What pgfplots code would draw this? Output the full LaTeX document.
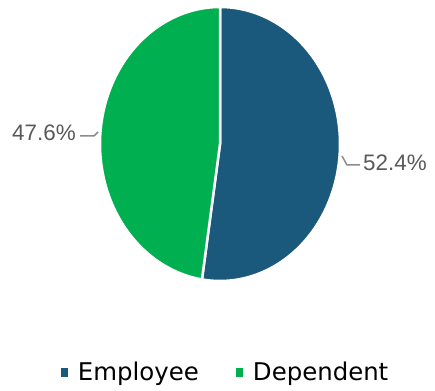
\documentclass[border=0pt]{standalone}
\usepackage{fontspec}
\setmainfont{Liberation Sans}
\newfontfamily\legendfont{DejaVu Sans}
\usepackage{pgfplots}
\pgfplotsset{compat=1.18}
\definecolor{empblue}{RGB}{27,89,124}
\definecolor{depgreen}{RGB}{0,176,80}
\definecolor{labgray}{RGB}{89,89,89}
\definecolor{leadgray}{RGB}{140,140,140}
\begin{document}
\begin{tikzpicture}
% values (percent)
\def\valEmployee{52.4}
\def\valDependent{47.6}
\pgfmathsetmacro{\aStart}{90}
\pgfmathsetmacro{\aMid}{90-\valEmployee*3.6}
\pgfmathsetmacro{\aEnd}{\aMid-\valDependent*3.6}
\begin{axis}[
  hide axis, scale only axis,
  width=435bp, height=391bp,
  xmin=0, xmax=435, ymin=0, ymax=391,
  clip=false,
  legend columns=2,
  legend style={draw=none, fill=none, at={(axis cs:225.5,19)}, anchor=center,
    font=\legendfont\fontsize{24.5}{28}\selectfont,
    /tikz/every even column/.append style={column sep=35bp},
    cells={anchor=west}},
  legend image code/.code={\fill[#1] (0bp,-4bp) rectangle (6bp,3.5bp); \path[draw=none,fill=none] (0bp,-1bp) rectangle (15bp,1bp);},
]
\path (rel axis cs:0,0) rectangle (rel axis cs:1,1);
\addplot[fill=empblue, draw=white, line width=2.5bp, domain=\aStart:\aMid, samples=120, forget plot]
  ({220+120*cos(x)},{247+137*sin(x)}) -- (axis cs:220,247) -- cycle;
\addplot[fill=depgreen, draw=white, line width=2.5bp, domain=\aMid:\aEnd, samples=120, forget plot]
  ({220+120*cos(x)},{247+137*sin(x)}) -- (axis cs:220,247) -- cycle;
\addlegendimage{empblue, fill=empblue}
\addlegendentry{Employee}
\addlegendimage{depgreen, fill=depgreen}
\addlegendentry{Dependent}
% leader lines
\draw[leadgray, line width=1.5bp] (axis cs:80,255) -- (axis cs:94,255) -- (axis cs:98,259);
\draw[leadgray, line width=1.5bp] (axis cs:342,235) -- (axis cs:347,226) -- (axis cs:360,226);
\node[anchor=east, inner sep=0pt, text=labgray, font=\fontsize{22.5}{26}\selectfont] at (axis cs:76,258) {\valDependent\%};
\node[anchor=west, inner sep=0pt, text=labgray, font=\fontsize{22.5}{26}\selectfont] at (axis cs:363,228) {\valEmployee\%};
\end{axis}
\end{tikzpicture}
\end{document}
